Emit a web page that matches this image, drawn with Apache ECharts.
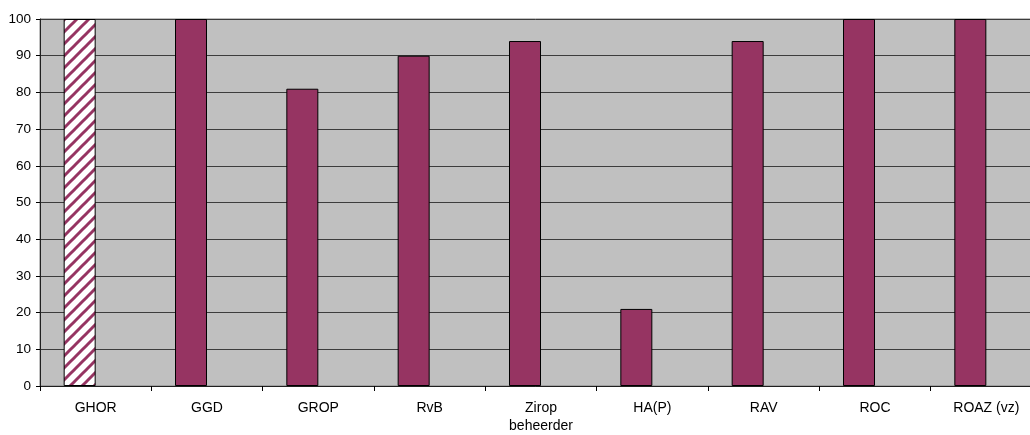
<!DOCTYPE html>
<html>
<head>
<meta charset="utf-8">
<script src="https://cdn.jsdelivr.net/npm/echarts@6/dist/echarts.min.js"></script>
<style>html,body{margin:0;padding:0;background:#fff;}#c{width:1030px;height:435px;}</style>
</head>
<body>
<div id="c"></div>
<script>
const categories = ['GHOR', 'GGD', 'GROP', 'RvB', 'Zirop\nbeheerder', 'HA(P)', 'RAV', 'ROC', 'ROAZ (vz)'];
const values = [100, 100, 81, 90, 94, 21, 94, 100, 100];
const yTicks = [0, 10, 20, 30, 40, 50, 60, 70, 80, 90, 100];

const barColor = '#963462';

// hatch pattern for the first bar
const tile = document.createElement('canvas');
tile.width = 12; tile.height = 12;
const tc = tile.getContext('2d');
tc.fillStyle = '#ffffff';
tc.fillRect(0, 0, 12, 12);
tc.strokeStyle = barColor;
tc.lineWidth = 3;
tc.lineCap = 'square';
[[-3, 15, 15, -3], [-3, 3, 3, -3], [9, 15, 15, 9]].forEach(function (l) {
  tc.beginPath(); tc.moveTo(l[0], l[1]); tc.lineTo(l[2], l[3]); tc.stroke();
});

const seriesData = values.map(function (v, i) {
  if (i === 0) {
    return { value: v, itemStyle: { color: { image: tile, repeat: 'repeat' } } };
  }
  return v;
});
const emptyData = values.map(function () { return null; });

const chart = echarts.init(document.getElementById('c'), null, { renderer: 'canvas' });
chart.setOption({
  animation: false,
  grid: { left: 40, top: 19, width: 1002, height: 367, show: true, backgroundColor: '#C0C0C0', borderColor: '#808080', borderWidth: 1, containLabel: false, outerBoundsMode: 'none' },
  xAxis: {
    type: 'category',
    data: categories,
    axisLine: { show: true, lineStyle: { color: '#202020', width: 1 } },
    axisTick: { show: true, alignWithLabel: false, length: 5, lineStyle: { color: '#000' } },
    axisLabel: { color: '#000', fontFamily: 'Liberation Sans, Arial', fontSize: 14, margin: 13, interval: 0, lineHeight: 18 },
    splitLine: { show: false }
  },
  yAxis: {
    type: 'value',
    min: 0, max: 100, interval: 10,
    axisLine: { show: true, lineStyle: { color: '#202020', width: 1 } },
    axisTick: { show: true, length: 4, lineStyle: { color: '#000' } },
    axisLabel: { color: '#000', fontFamily: 'Liberation Sans, Arial', fontSize: 13.5, margin: 9,
      formatter: function (v) { return yTicks.indexOf(v) >= 0 ? String(v) : ''; } },
    splitLine: { show: true, lineStyle: { color: '#3c3c3c', width: 1 } }
  },
  series: [
    {
      type: 'bar',
      data: seriesData,
      barWidth: 32,
      barGap: '0%',
      itemStyle: { color: barColor, borderColor: '#000', borderWidth: 1 }
    },
    {
      type: 'bar',
      data: emptyData,
      barWidth: 32,
      itemStyle: { color: barColor }
    }
  ]
});
</script>
</body>
</html>
